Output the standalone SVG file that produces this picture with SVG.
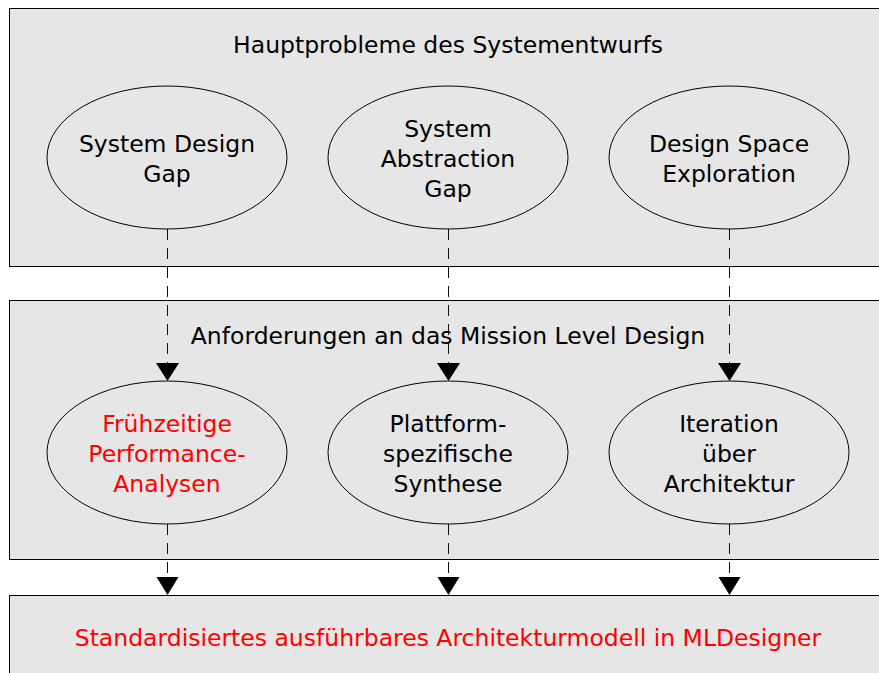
<svg xmlns="http://www.w3.org/2000/svg" width="879" height="673" viewBox="0 0 879 673">
  <defs>
    <style>
      .panel { fill: #e6e6e6; stroke: #000; stroke-width: 1; }
      .node ellipse { fill: #e6e6e6; stroke: #000; stroke-width: 1; }
      text { font-family: "DejaVu Sans", "Liberation Sans", sans-serif; font-size: 23.5px; fill: #000; text-anchor: middle; }
      .red { fill: #ff0000; }
      .link { stroke: #111; stroke-width: 1; stroke-dasharray: 11 8; fill: none; }
      .head { fill: #000; }
    </style>
  </defs>
  <rect width="879" height="673" fill="#ffffff"/>

  <!-- panels -->
  <g id="panel-probleme">
    <rect class="panel" x="9.5" y="8.5" width="880" height="258"/>
    <text x="448" y="53">Hauptprobleme des Systementwurfs</text>
  </g>
  <g id="panel-anforderungen">
    <rect class="panel" x="9.5" y="300.5" width="880" height="259"/>
    <text x="448" y="344">Anforderungen an das Mission Level Design</text>
  </g>
  <g id="panel-modell">
    <rect class="panel" x="9.5" y="595.5" width="880" height="90"/>
    <text class="red" x="448" y="646">Standardisiertes ausführbares Architekturmodell in MLDesigner</text>
  </g>

  <!-- connectors -->
  <g id="connectors">
    <line class="link" x1="167.5" y1="229" x2="167.5" y2="364"/>
    <line class="link" x1="448.5" y1="229" x2="448.5" y2="364"/>
    <line class="link" x1="729.5" y1="229" x2="729.5" y2="364"/>
    <polygon class="head" points="156,363 179,363 167.5,381"/>
    <polygon class="head" points="437,363 460,363 448.5,381"/>
    <polygon class="head" points="718,363 741,363 729.5,381"/>
    <line class="link" x1="167.5" y1="524" x2="167.5" y2="578"/>
    <line class="link" x1="448.5" y1="524" x2="448.5" y2="578"/>
    <line class="link" x1="729.5" y1="524" x2="729.5" y2="578"/>
    <polygon class="head" points="156.5,577 178.5,577 167.5,595"/>
    <polygon class="head" points="437.5,577 459.5,577 448.5,595"/>
    <polygon class="head" points="718.5,577 740.5,577 729.5,595"/>
  </g>

  <!-- row 1 -->
  <g id="system-design-gap" class="node">
    <ellipse cx="167" cy="157.5" rx="120" ry="71.5"/>
    <text x="167" y="152">System Design</text>
    <text x="167" y="182">Gap</text>
  </g>
  <g id="system-abstraction-gap" class="node">
    <ellipse cx="448" cy="157.5" rx="120" ry="71.5"/>
    <text x="448" y="137">System</text>
    <text x="448" y="167">Abstraction</text>
    <text x="448" y="197">Gap</text>
  </g>
  <g id="design-space-exploration" class="node">
    <ellipse cx="729" cy="157.5" rx="120" ry="71.5"/>
    <text x="729" y="152">Design Space</text>
    <text x="729" y="182">Exploration</text>
  </g>

  <!-- row 2 -->
  <g id="performance-analysen" class="node">
    <ellipse cx="167" cy="452.5" rx="120" ry="71.5"/>
    <text class="red" x="167" y="432">Frühzeitige</text>
    <text class="red" x="167" y="462">Performance-</text>
    <text class="red" x="167" y="492">Analysen</text>
  </g>
  <g id="plattform-synthese" class="node">
    <ellipse cx="448" cy="452.5" rx="120" ry="71.5"/>
    <text x="448" y="432">Plattform-</text>
    <text x="448" y="462">spezifische</text>
    <text x="448" y="492">Synthese</text>
  </g>
  <g id="iteration-architektur" class="node">
    <ellipse cx="729" cy="452.5" rx="120" ry="71.5"/>
    <text x="729" y="432">Iteration</text>
    <text x="729" y="462">über</text>
    <text x="729" y="492">Architektur</text>
  </g>
</svg>
